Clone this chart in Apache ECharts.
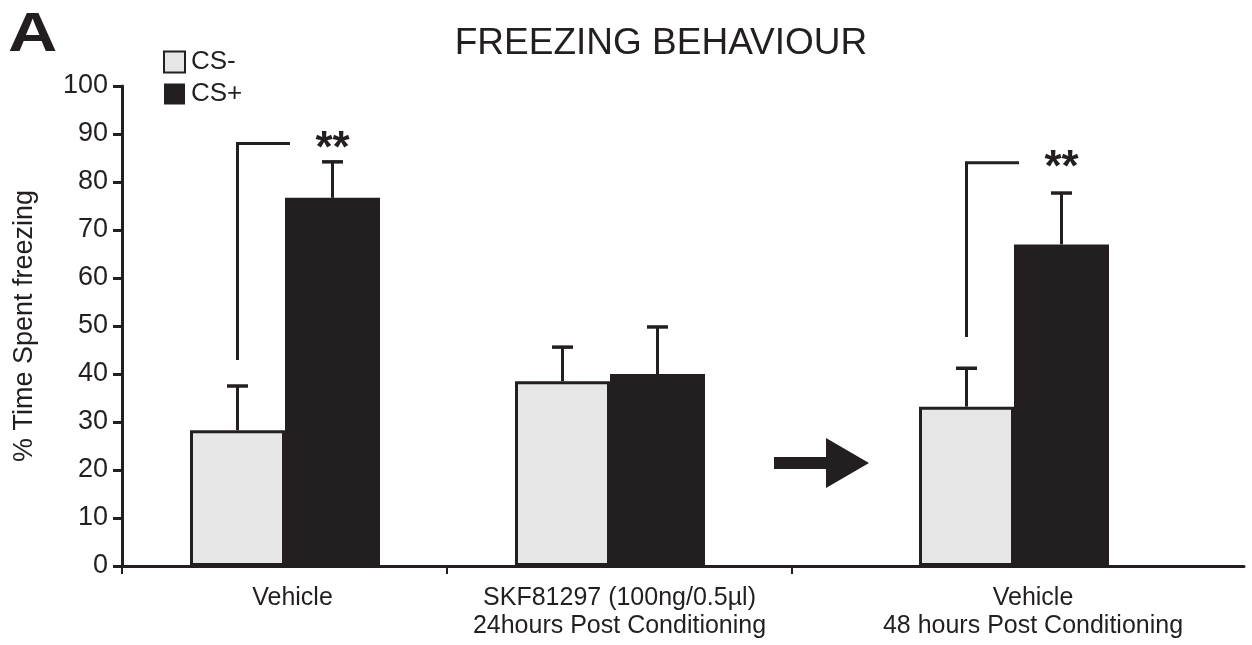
<!DOCTYPE html>
<html>
<head>
<meta charset="utf-8">
<script src="https://cdn.jsdelivr.net/npm/echarts@6/dist/echarts.min.js"></script>
<style>
html,body{margin:0;padding:0;background:#fff;}
#chart{width:1252px;height:645px;}
</style>
</head>
<body>
<div id="chart"></div>
<script>
// ---------- data ----------
const categories = [
  'Vehicle',
  'SKF81297 (100ng/0.5µl)\n24hours Post Conditioning',
  'Vehicle\n48 hours Post Conditioning'
];
const seriesNames = ['CS-', 'CS+'];
const csMinus = [28.3, 38.5, 33.2];
const csPlus = [76.7, 40.0, 67.0];
const csMinusErr = [9.2, 7.1, 8.0];
const csPlusErr = [7.5, 9.8, 10.7];
const yTickValues = [0, 10, 20, 30, 40, 50, 60, 70, 80, 90, 100];
const sigGroups = [0, 2];
const sigFrom = [42.9, 47.7];
const sigTo = [88.0, 84.0];
const sigLabels = ['**', '**'];

// ---------- style / layout ----------
const INK = '#231f20';
const LIGHT = '#e6e6e6';
const FONT = 'Liberation Sans, Arial, Helvetica, sans-serif';
const W = 1252, H = 645;
const TOP = 86, BOTTOM = H - 566;
const BAR_W = 95;
const labelGrids = [[122, 447], [447, 792], [792, 1244]];
const barCenters = [285, 610, 1014];
const BAR_GRID_W = 300;
const labelShift = [16, 0, 30];

const chart = echarts.init(document.getElementById('chart'), null, {renderer: 'canvas'});

const grids = [], xAxes = [], yAxes = [], series = [];
const yMin = yTickValues[0], yMax = yTickValues[yTickValues.length - 1];
const yInterval = yTickValues[1] - yTickValues[0];

// label/axis grids
labelGrids.forEach(function (g, i) {
  grids.push({left: g[0], right: W - g[1], top: TOP, bottom: BOTTOM});
  xAxes.push({
    type: 'category', gridIndex: i, data: [categories[i]],
    axisLine: {show: true, lineStyle: {color: INK, width: 3}},
    axisTick: {show: i < 2, length: 8, lineStyle: {color: INK, width: 2}},
    axisLabel: {
      color: INK, fontSize: 25, fontFamily: FONT, lineHeight: 28, margin: 18,
      padding: [0, 0, 0, labelShift[i]], interval: 0
    },
    splitLine: {show: false}
  });
  yAxes.push({
    type: 'value', gridIndex: i, min: yMin, max: yMax, interval: yInterval,
    show: i === 0,
    name: i === 0 ? '% Time Spent freezing' : '',
    nameLocation: 'middle', nameRotate: 90, nameGap: 84,
    nameTextStyle: {color: INK, fontSize: 27, fontFamily: FONT},
    axisLine: {show: true, onZero: false, lineStyle: {color: INK, width: 3}},
    axisTick: {show: true, length: 9, lineStyle: {color: INK, width: 3}},
    axisLabel: {color: INK, fontSize: 27, fontFamily: FONT, margin: 14},
    splitLine: {show: false}
  });
});

// bar grids
barCenters.forEach(function (c, i) {
  const gi = 3 + i;
  grids.push({left: c - BAR_GRID_W / 2, right: W - (c + BAR_GRID_W / 2), top: TOP, bottom: BOTTOM});
  xAxes.push({type: 'category', gridIndex: gi, data: [categories[i]], show: false});
  yAxes.push({type: 'value', gridIndex: gi, min: yMin, max: yMax, interval: yInterval, show: false});

  series.push({
    name: seriesNames[0], type: 'bar', xAxisIndex: gi, yAxisIndex: gi,
    data: [csMinus[i]], barWidth: BAR_W, barGap: '0%',
    itemStyle: {color: LIGHT, borderColor: INK, borderWidth: 3},
    emphasis: {disabled: true}, z: 2
  });
  series.push({
    name: seriesNames[1], type: 'bar', xAxisIndex: gi, yAxisIndex: gi,
    data: [csPlus[i]], barWidth: BAR_W, barGap: '0%',
    itemStyle: {color: INK, borderColor: INK, borderWidth: 0},
    emphasis: {disabled: true}, z: 2
  });
  // error bars
  series.push({
    type: 'custom', xAxisIndex: gi, yAxisIndex: gi, z: 3, silent: true,
    data: [
      [0, csMinus[i], csMinus[i] + csMinusErr[i], -1],
      [0, csPlus[i], csPlus[i] + csPlusErr[i], 1]
    ],
    encode: {x: 0, y: [1, 2]},
    renderItem: function (params, api) {
      const base = api.coord([api.value(0), api.value(1)]);
      const top = api.coord([api.value(0), api.value(2)]);
      const x = base[0] + api.value(3) * BAR_W / 2;
      return {
        type: 'group',
        children: [
          {type: 'line', shape: {x1: x, y1: base[1], x2: x, y2: top[1]}, style: {stroke: INK, lineWidth: 3}},
          {type: 'line', shape: {x1: x - 10.5, y1: top[1], x2: x + 10.5, y2: top[1]}, style: {stroke: INK, lineWidth: 3.5}}
        ]
      };
    }
  });
  // significance brackets
  const k = sigGroups.indexOf(i);
  if (k >= 0) {
    series.push({
      type: 'custom', xAxisIndex: gi, yAxisIndex: gi, z: 3, silent: true,
      data: [[0, sigFrom[k], sigTo[k]]],
      encode: {x: 0, y: [1, 2]},
      renderItem: function (params, api) {
        const b = api.coord([api.value(0), api.value(1)]);
        const t = api.coord([api.value(0), api.value(2)]);
        const x = b[0] - BAR_W / 2;
        return {
          type: 'group',
          children: [
            {type: 'polyline', shape: {points: [[x, b[1]], [x, t[1]], [b[0] + 5, t[1]]]},
             style: {stroke: INK, lineWidth: 3, fill: null, lineJoin: 'miter'}},
            {type: 'text', x: b[0] + BAR_W / 2, y: t[1] + 6,
             style: {text: sigLabels[k], fill: INK, font: 'bold 44px ' + FONT, textAlign: 'center', textVerticalAlign: 'middle'}}
          ]
        };
      }
    });
  }
});

const option = {
  backgroundColor: '#ffffff',
  animation: false,
  grid: grids,
  xAxis: xAxes,
  yAxis: yAxes,
  legend: {
    data: seriesNames, orient: 'vertical', left: 163, top: 49, padding: 0,
    itemWidth: 21, itemHeight: 21, itemGap: 6, icon: 'rect',
    textStyle: {color: INK, fontSize: 26, fontFamily: FONT, padding: [0, 0, 0, 1]},
    selectedMode: false
  },
  graphic: [
    {type: 'text', x: 661, y: 44, style: {text: 'FREEZING BEHAVIOUR', fill: INK, font: '37px ' + FONT, textAlign: 'center', textVerticalAlign: 'middle'}},
    {type: 'text', x: 8, y: 36, scaleX: 1.22, style: {text: 'A', fill: INK, font: 'bold 56px ' + FONT, textAlign: 'left', textVerticalAlign: 'middle'}},
    {type: 'polygon', shape: {points: [[774, 457], [826, 457], [826, 438], [869, 463], [826, 488], [826, 469], [774, 469]]},
     style: {fill: INK}}
  ],
  series: series
};
chart.setOption(option);
</script>
</body>
</html>
